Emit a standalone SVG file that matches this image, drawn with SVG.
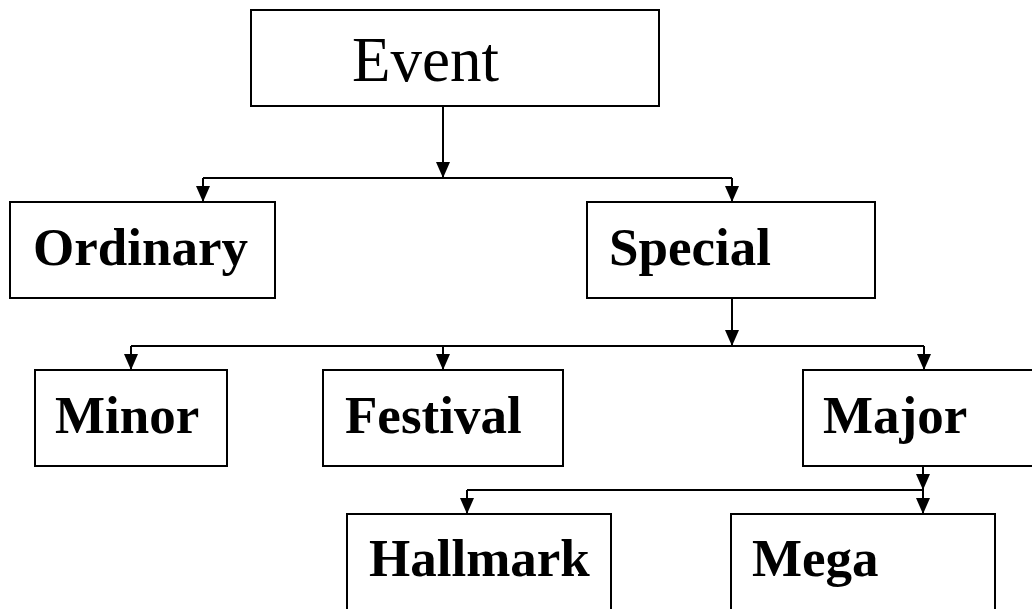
<svg xmlns="http://www.w3.org/2000/svg" width="1032" height="609" viewBox="0 0 1032 609">
  <style>
    .box { fill: #fff; stroke: #000; stroke-width: 2; }
    .lbl { font-family: "Liberation Serif", "Times New Roman", serif; font-size: 53px; font-weight: bold; fill: #000; }
    .title { font-family: "Liberation Serif", "Times New Roman", serif; font-size: 63px; fill: #000; }
    .wire { fill: none; stroke: #000; stroke-width: 2; }
  </style>
  <defs>
    <marker id="tip" markerUnits="userSpaceOnUse" markerWidth="16" markerHeight="14" viewBox="0 0 16 14" refX="16" refY="7" orient="auto">
      <path d="M0 0 L16 7 L0 14 Z" fill="#000"/>
    </marker>
  </defs>

  <g id="connectors">
    <path class="wire" d="M443 106 V178" marker-end="url(#tip)"/>
    <path class="wire" d="M203 178 H732"/>
    <path class="wire" d="M203 178 V202" marker-end="url(#tip)"/>
    <path class="wire" d="M732 178 V202" marker-end="url(#tip)"/>

    <path class="wire" d="M732 298 V346" marker-end="url(#tip)"/>
    <path class="wire" d="M131 346 H924"/>
    <path class="wire" d="M131 346 V370" marker-end="url(#tip)"/>
    <path class="wire" d="M443 346 V370" marker-end="url(#tip)"/>
    <path class="wire" d="M924 346 V370" marker-end="url(#tip)"/>

    <path class="wire" d="M923 466 V490" marker-end="url(#tip)"/>
    <path class="wire" d="M467 490 H923"/>
    <path class="wire" d="M467 490 V514" marker-end="url(#tip)"/>
    <path class="wire" d="M923 490 V514" marker-end="url(#tip)"/>
  </g>

  <g id="event">
    <rect class="box" x="251" y="10" width="408" height="96"/>
    <text class="title" x="352" y="81">Event</text>
  </g>
  <g id="ordinary">
    <rect class="box" x="10" y="202" width="265" height="96"/>
    <text class="lbl" x="33" y="265">Ordinary</text>
  </g>
  <g id="special">
    <rect class="box" x="587" y="202" width="288" height="96"/>
    <text class="lbl" x="609" y="265">Special</text>
  </g>
  <g id="minor">
    <rect class="box" x="35" y="370" width="192" height="96"/>
    <text class="lbl" x="55" y="433">Minor</text>
  </g>
  <g id="festival">
    <rect class="box" x="323" y="370" width="240" height="96"/>
    <text class="lbl" x="345" y="433">Festival</text>
  </g>
  <g id="major">
    <rect class="box" x="803" y="370" width="240" height="96"/>
    <text class="lbl" x="823" y="433">Major</text>
  </g>
  <g id="hallmark">
    <rect class="box" x="347" y="514" width="264" height="110"/>
    <text class="lbl" x="369" y="576">Hallmark</text>
  </g>
  <g id="mega">
    <rect class="box" x="731" y="514" width="264" height="110"/>
    <text class="lbl" x="752" y="576">Mega</text>
  </g>
</svg>
